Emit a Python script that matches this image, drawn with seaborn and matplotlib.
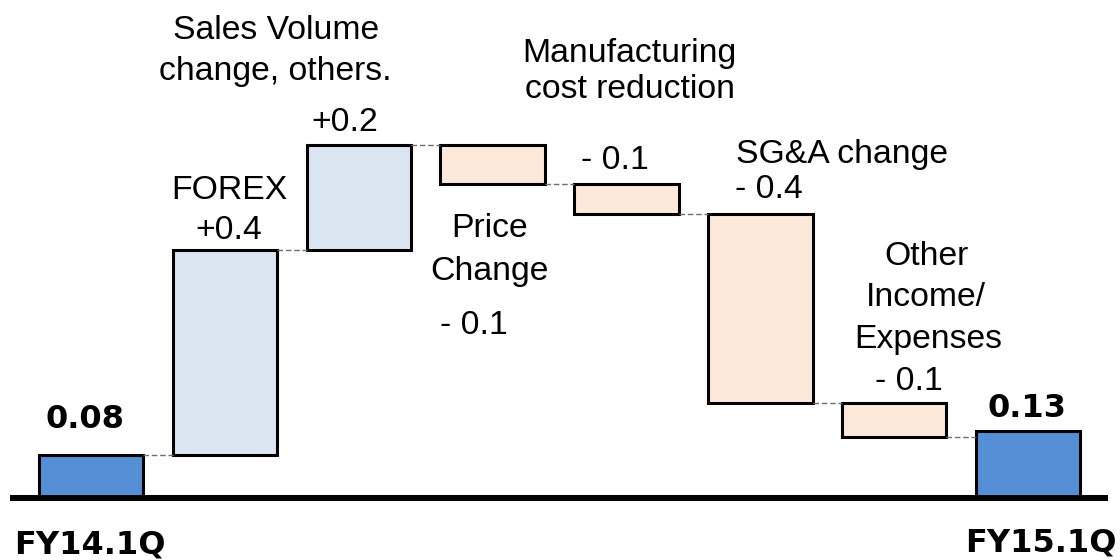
import numpy as np
import seaborn as sns
import matplotlib
matplotlib.use("Agg")
import matplotlib.pyplot as plt

# Datos del puente FY14.1Q -> FY15.1Q
steps = ["FY14.1Q", "FOREX", "Sales Volume", "Price Change",
         "Manufacturing", "SG&A", "Other", "FY15.1Q"]
deltas = [0.080, 0.381, 0.195, -0.071, -0.056, -0.352, -0.063]
final_value = 0.125
bar_colors = ["#558ED5", "#DCE6F2", "#DCE6F2", "#FDE9DA",
              "#FDE9DA", "#FDE9DA", "#FDE9DA", "#558ED5"]

# Textos y su posicion (pixeles: x centro / izquierda, linea base)
labels = [
    ("0.08", 85, 428, "bold", "center"),
    ("0.13", 1027, 417, "bold", "center"),
    ("FY14.1Q", 90, 553, "bold", "center"),
    ("FY15.1Q", 1041, 551, "bold", "center"),
    ("Sales Volume", 276, 39, "normal", "center"),
    ("change, others.", 275, 80, "normal", "center"),
    ("+0.2", 345, 131, "normal", "center"),
    ("FOREX", 229, 199, "normal", "center"),
    ("+0.4", 229, 239, "normal", "center"),
    ("Manufacturing", 629, 62, "normal", "center"),
    ("cost reduction", 630, 98, "normal", "center"),
    ("- 0.1", 581, 169, "normal", "left"),
    ("SG&A change", 736, 163, "normal", "left"),
    ("- 0.4", 735, 198, "normal", "left"),
    ("Price", 490, 237, "normal", "center"),
    ("Change", 489, 280, "normal", "center"),
    ("- 0.1", 440, 334, "normal", "left"),
    ("Other", 926, 265, "normal", "center"),
    ("Income/", 926, 306, "normal", "center"),
    ("Expenses", 928, 348, "normal", "center"),
    ("- 0.1", 875, 390, "normal", "left"),
]

# Calculo de bases y alturas de la cascada
running = np.cumsum(deltas)
tops = list(running) + [final_value]
prev = [0.0] + list(running)
bottoms = [min(prev[i], tops[i]) if i < len(deltas) else 0.0 for i in range(len(steps))]
bottoms[0] = 0.0
heights = [abs(tops[i] - prev[i]) if i < len(deltas) else final_value for i in range(len(steps))]

W, H = 1120, 560
fig = plt.figure(figsize=(W / 100, H / 100), dpi=100)
ax = fig.add_axes([0, 0, 1, 1])

bar_w = 0.78
sns.barplot(x=steps, y=heights, bottom=bottoms, width=bar_w, errorbar=None,
            color="white", edgecolor="black", linewidth=2.2, ax=ax)
for patch, c in zip(ax.patches, bar_colors):
    patch.set_facecolor(c)

# Lineas punteadas de conexion entre barras
pos = np.arange(len(steps))
ax.hlines(running, pos[:-1] + bar_w / 2, pos[1:] - bar_w / 2,
          colors="#6F6F6F", linestyles=(0, (4, 2)), linewidth=1.0, zorder=1)

# Escala: 133.9 px por categoria, 537.5 px por unidad, base en y=498
px_x, px_y = 133.86, 537.5
ax.set_xlim(-91 / px_x, (W - 91) / px_x)
ax.set_ylim(-(H - 498) / px_y, 498 / px_y)
ax.axhline(0, xmin=13 / W, xmax=1105 / W, color="black", linewidth=4.3, zorder=5)
ax.axis("off")

for txt, x, y, weight, ha in labels:
    family = "DejaVu Sans" if weight == "bold" else "Liberation Sans"
    size = 23 if weight == "bold" else 24.3
    fig.text(x / W, 1 - y / H, txt, ha=ha, va="baseline",
             fontsize=size, fontweight=weight, family=family, color="black")

fig.savefig("out.png", dpi=100, facecolor="white")
